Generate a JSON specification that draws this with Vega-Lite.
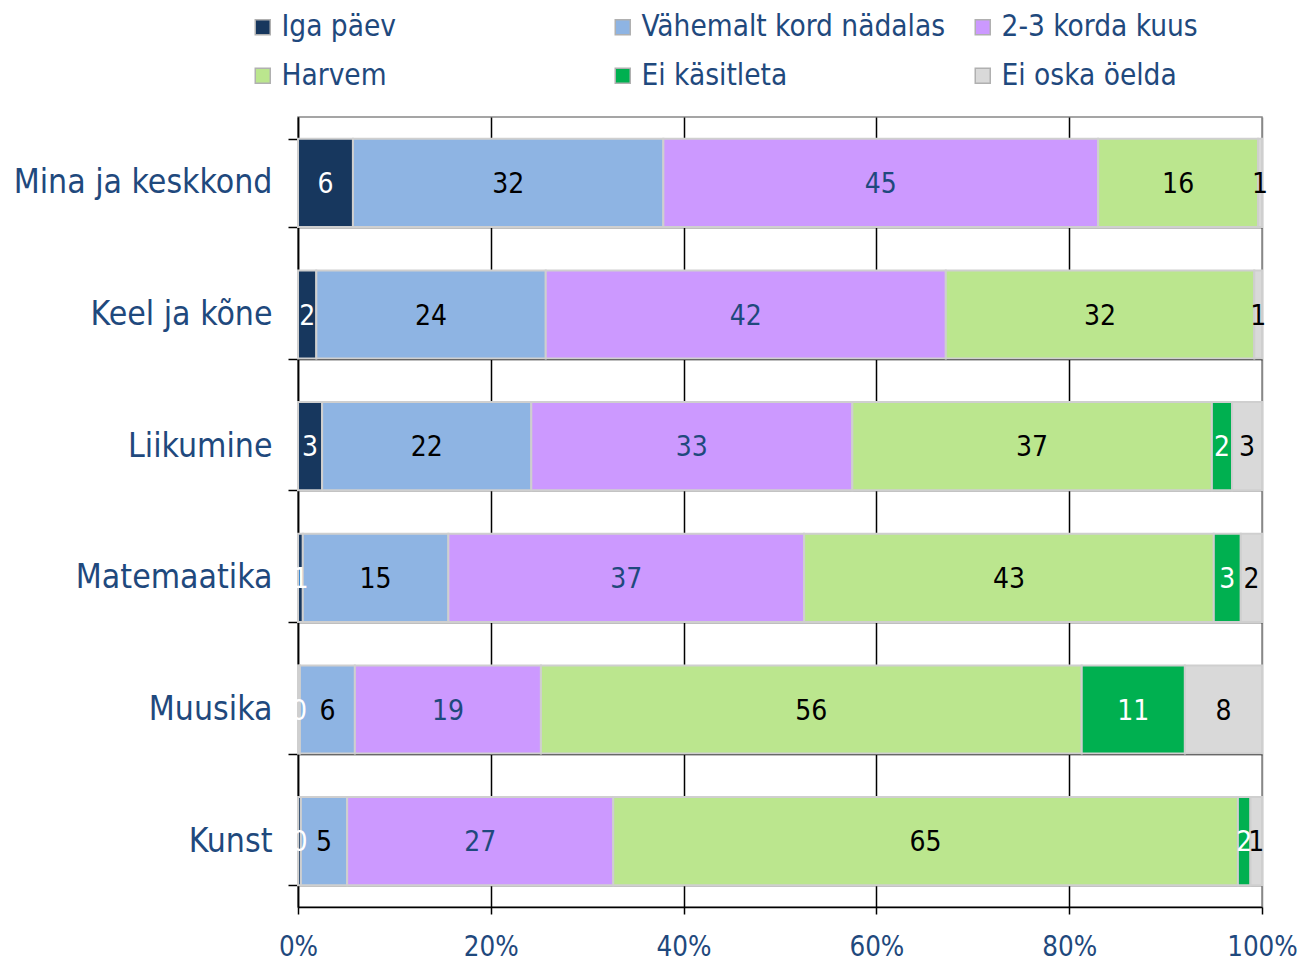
{
  "$schema": "https://vega.github.io/schema/vega-lite/v6.json",
  "width": 964,
  "height": 790,
  "autosize": {"type": "none"},
  "padding": {"left": 298, "top": 117, "right": 43, "bottom": 53},
  "background": "white",
  "config": {
    "font": "DejaVu Sans Condensed",
    "view": {"stroke": "#888888", "strokeWidth": 1.5}
  },
  "data": {
    "values": [
      {"cat": "Mina ja keskkond", "series": "Iga päev", "k": 1, "pct": 5.7, "label": 6},
      {"cat": "Mina ja keskkond", "series": "Vähemalt kord nädalas", "k": 2, "pct": 32.2, "label": 32},
      {"cat": "Mina ja keskkond", "series": "2-3 korda kuus", "k": 3, "pct": 45.1, "label": 45},
      {"cat": "Mina ja keskkond", "series": "Harvem", "k": 4, "pct": 16.6, "label": 16},
      {"cat": "Mina ja keskkond", "series": "Ei oska öelda", "k": 6, "pct": 0.4, "label": 1},
      {"cat": "Keel ja kõne", "series": "Iga päev", "k": 1, "pct": 1.9, "label": 2},
      {"cat": "Keel ja kõne", "series": "Vähemalt kord nädalas", "k": 2, "pct": 23.8, "label": 24},
      {"cat": "Keel ja kõne", "series": "2-3 korda kuus", "k": 3, "pct": 41.5, "label": 42},
      {"cat": "Keel ja kõne", "series": "Harvem", "k": 4, "pct": 32.0, "label": 32},
      {"cat": "Keel ja kõne", "series": "Ei oska öelda", "k": 6, "pct": 0.8, "label": 1},
      {"cat": "Liikumine", "series": "Iga päev", "k": 1, "pct": 2.5, "label": 3},
      {"cat": "Liikumine", "series": "Vähemalt kord nädalas", "k": 2, "pct": 21.7, "label": 22},
      {"cat": "Liikumine", "series": "2-3 korda kuus", "k": 3, "pct": 33.3, "label": 33},
      {"cat": "Liikumine", "series": "Harvem", "k": 4, "pct": 37.3, "label": 37},
      {"cat": "Liikumine", "series": "Ei käsitleta", "k": 5, "pct": 2.1, "label": 2},
      {"cat": "Liikumine", "series": "Ei oska öelda", "k": 6, "pct": 3.1, "label": 3},
      {"cat": "Matemaatika", "series": "Iga päev", "k": 1, "pct": 0.5, "label": 1},
      {"cat": "Matemaatika", "series": "Vähemalt kord nädalas", "k": 2, "pct": 15.1, "label": 15},
      {"cat": "Matemaatika", "series": "2-3 korda kuus", "k": 3, "pct": 36.9, "label": 37},
      {"cat": "Matemaatika", "series": "Harvem", "k": 4, "pct": 42.5, "label": 43},
      {"cat": "Matemaatika", "series": "Ei käsitleta", "k": 5, "pct": 2.8, "label": 3},
      {"cat": "Matemaatika", "series": "Ei oska öelda", "k": 6, "pct": 2.2, "label": 2},
      {"cat": "Muusika", "series": "Iga päev", "k": 1, "pct": 0.2, "label": 0},
      {"cat": "Muusika", "series": "Vähemalt kord nädalas", "k": 2, "pct": 5.7, "label": 6},
      {"cat": "Muusika", "series": "2-3 korda kuus", "k": 3, "pct": 19.3, "label": 19},
      {"cat": "Muusika", "series": "Harvem", "k": 4, "pct": 56.1, "label": 56},
      {"cat": "Muusika", "series": "Ei käsitleta", "k": 5, "pct": 10.7, "label": 11},
      {"cat": "Muusika", "series": "Ei oska öelda", "k": 6, "pct": 8.0, "label": 8},
      {"cat": "Kunst", "series": "Iga päev", "k": 1, "pct": 0.3, "label": 0},
      {"cat": "Kunst", "series": "Vähemalt kord nädalas", "k": 2, "pct": 4.8, "label": 5},
      {"cat": "Kunst", "series": "2-3 korda kuus", "k": 3, "pct": 27.6, "label": 27},
      {"cat": "Kunst", "series": "Harvem", "k": 4, "pct": 64.8, "label": 65},
      {"cat": "Kunst", "series": "Ei käsitleta", "k": 5, "pct": 1.3, "label": 2},
      {"cat": "Kunst", "series": "Ei oska öelda", "k": 6, "pct": 1.2, "label": 1}
    ]
  },
  "transform": [
    {"stack": "pct", "groupby": ["cat"], "sort": [{"field": "k", "order": "ascending"}], "as": ["x0", "x1"], "offset": "normalize"},
    {"calculate": "(datum.x0 + datum.x1) / 2", "as": "xm"}
  ],
  "encoding": {
    "y": {
      "field": "cat",
      "type": "nominal",
      "sort": ["Mina ja keskkond", "Keel ja kõne", "Liikumine", "Matemaatika", "Muusika", "Kunst"],
      "scale": {"paddingInner": 0.33, "paddingOuter": 0.165},
      "axis": {
        "title": null,
        "tickBand": "extent",
        "grid": true,
        "gridColor": "#000000",
        "gridWidth": 1.5,
        "domainColor": "#000000",
        "domainWidth": 1.5,
        "tickColor": "#000000",
        "tickWidth": 1.5,
        "tickSize": 10,
        "labelPadding": 16,
        "labelFontSize": 33.5,
        "labelColor": "#1F497D",
        "labelLimit": 400
      }
    }
  },
  "layer": [
    {
      "mark": {"type": "bar", "stroke": "#cfcfcf", "strokeWidth": 2},
      "encoding": {
        "x": {
          "field": "x0",
          "type": "quantitative",
          "scale": {"domain": [0, 1]},
          "axis": {
            "title": null,
            "values": [0, 0.2, 0.4, 0.6, 0.8, 1],
            "format": ".0%",
            "grid": true,
            "gridColor": {"condition": {"test": "datum.value == 1", "value": "#888888"}, "value": "#000000"},
            "gridWidth": 1.5,
            "domainColor": "#000000",
            "domainWidth": 1.5,
            "tickColor": "#000000",
            "tickWidth": 1.5,
            "tickSize": 7,
            "labelPadding": 19,
            "labelFontSize": 27.5,
            "labelColor": "#1F497D",
            "labelFlush": false,
            "labelBound": false
          }
        },
        "x2": {"field": "x1"},
        "color": {
          "field": "series",
          "type": "nominal",
          "scale": {
            "domain": ["Iga päev", "Vähemalt kord nädalas", "2-3 korda kuus", "Harvem", "Ei käsitleta", "Ei oska öelda"],
            "range": ["#17375E", "#8EB4E3", "#CC99FF", "#BBE68E", "#00B050", "#D9D9D9"]
          },
          "legend": {
            "title": null,
            "orient": "none",
            "direction": "horizontal",
            "legendX": -50,
            "legendY": -105,
            "columns": 3,
            "gridAlign": "all",
            "columnPadding": 23,
            "rowPadding": 18,
            "symbolType": "square",
            "symbolSize": 225,
            "symbolStrokeColor": "#b0b0b0",
            "symbolStrokeWidth": 1.5,
            "symbolOpacity": 1,
            "labelFontSize": 29.5,
            "labelColor": "#1F497D",
            "labelOffset": 4,
            "labelLimit": 500
          }
        }
      }
    },
    {
      "mark": {"type": "text", "fontSize": 28, "baseline": "middle", "align": "center", "dy": 2},
      "encoding": {
        "x": {"field": "xm", "type": "quantitative", "title": null},
        "text": {"field": "label", "type": "quantitative"},
        "color": {
          "field": "series",
          "type": "nominal",
          "scale": {
            "domain": ["Iga päev", "Vähemalt kord nädalas", "2-3 korda kuus", "Harvem", "Ei käsitleta", "Ei oska öelda"],
            "range": ["#ffffff", "#000000", "#1F497D", "#000000", "#ffffff", "#000000"]
          },
          "legend": null
        }
      }
    }
  ],
  "resolve": {"scale": {"color": "independent"}}
}
